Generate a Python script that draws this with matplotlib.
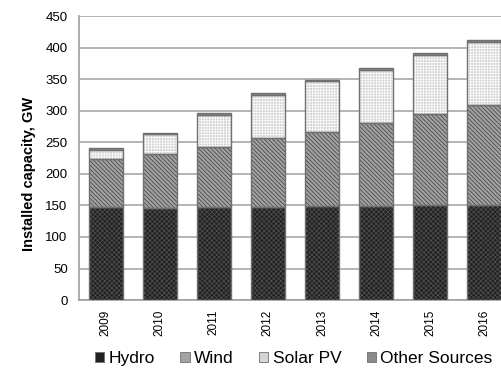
import numpy as np
import matplotlib.pyplot as plt
from matplotlib.patches import Patch

plt.rcParams['font.family'] = ['Liberation Sans', 'DejaVu Sans']
plt.rcParams['hatch.linewidth'] = 0.5

annees = ['2009', '2010', '2011', '2012', '2013', '2014', '2015', '2016']
hydro = [147, 145.5, 148, 148, 149.6, 149.6, 151, 151]
vent = [76, 85.5, 94, 108.6, 117, 130.4, 143.6, 158]
solaire = [15, 31.5, 51, 68.4, 80.2, 85, 94.4, 100]
autres = [3, 2.5, 3, 3, 2.2, 3, 2.5, 2.6]

series = [
    ('Hydro', hydro, '#222222', '#505050', 'xxxxxxx'),
    ('Wind', vent, '#a2a2a2', '#3c3c3c', '\\\\\\\\\\\\\\\\'),
    ('Solar PV', solaire, '#d4d4d4', '#ffffff', '++++++'),
    ('Other Sources', autres, '#8a8a8a', '#8a8a8a', None),
]

fig = plt.figure(figsize=(5.02, 3.76), dpi=100)
ax = fig.add_axes([0.157, 0.202, 0.861, 0.755])

x = np.arange(len(annees))
largeur = 0.63
bas = np.zeros(len(annees))
handles = []
for nom, vals, fc, hc, hatch in series:
    vals = np.array(vals)
    ax.bar(x, vals, largeur, bottom=bas, color=fc, edgecolor=hc, hatch=hatch,
           linewidth=0, zorder=3)
    ax.bar(x, vals, largeur, bottom=bas, fill=False, edgecolor='#707070',
           linewidth=1.0, zorder=4)
    handles.append(Patch(facecolor=fc, edgecolor='#707070', linewidth=0.6))
    bas += vals

ax.set_xlim(-0.5, len(annees) - 0.5)
ax.set_ylim(0, 450)
ax.set_yticks(range(0, 451, 50))
ax.set_xticks(x)
ax.set_xticklabels(annees, rotation=90, fontsize=8.5)
ax.tick_params(axis='y', labelsize=9.5, length=0, pad=8)
ax.tick_params(axis='x', length=0, pad=7)
ax.grid(axis='y', color='#a8a8a8', linewidth=1.2, zorder=0)
for s in ['top', 'right']:
    ax.spines[s].set_visible(False)
for s in ['left', 'bottom']:
    ax.spines[s].set_color('#a0a0a0')
    ax.spines[s].set_linewidth(1.2)

ax.set_ylabel('Installed capacity, GW', fontsize=10.5, fontweight='bold')
ax.yaxis.set_label_coords(-0.10, 0.445)

fig.legend(handles, [s[0] for s in series], loc='lower center', ncol=4,
           bbox_to_anchor=(0.585, -0.015), frameon=False, fontsize=12.5,
           handlelength=0.55, handleheight=0.55, handletextpad=0.25, columnspacing=1.45)

fig.savefig('out.png', dpi=100)
